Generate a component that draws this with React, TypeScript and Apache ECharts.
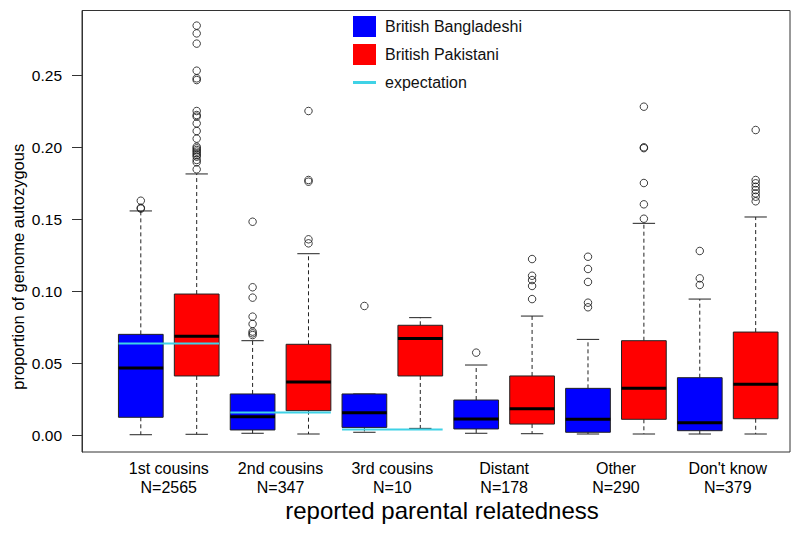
import React, { useEffect, useRef } from "react";
import * as echarts from "echarts";

const categories = ["1st cousins", "2nd cousins", "3rd cousins", "Distant", "Other", "Don't know"];
const sampleSizes = [2565, 347, 10, 178, 290, 379];

// [lower whisker, Q1, median, Q3, upper whisker]
const bangladeshiStats = [
  [0.0002, 0.0123, 0.0465, 0.0699, 0.1556],
  [0.0012, 0.0035, 0.0127, 0.0285, 0.0655],
  [0.0019, 0.0053, 0.0155, 0.0285, 0.0285],
  [0.0012, 0.0042, 0.0111, 0.0243, 0.0486],
  [0.0007, 0.0019, 0.0109, 0.0324, 0.0664],
  [0.0007, 0.003, 0.0085, 0.0398, 0.0944],
];
const pakistaniStats = [
  [0.0005, 0.041, 0.0685, 0.0979, 0.1813],
  [0.0007, 0.0169, 0.0368, 0.063, 0.1259],
  [0.0046, 0.041, 0.0671, 0.0762, 0.0815],
  [0.0009, 0.0076, 0.0183, 0.041, 0.0826],
  [0.0007, 0.0109, 0.0324, 0.0655, 0.147],
  [0.0007, 0.0113, 0.0352, 0.0715, 0.1514],
];

const bangladeshiOutliers = [
  [0.1627, 0.1578, 0.1572],
  [0.1481, 0.1026, 0.0954, 0.0822, 0.0771, 0.0718, 0.0706, 0.0694],
  [0.0896],
  [0.0572],
  [0.1238, 0.1153, 0.1063, 0.0919, 0.0887],
  [0.1278, 0.1088, 0.1042],
];
const pakistaniOutliers = [
  [0.2843, 0.2789, 0.2718, 0.253, 0.2477, 0.2465, 0.225, 0.2222, 0.2211, 0.2164, 0.2111, 0.2058, 0.2002, 0.1991, 0.1979, 0.1968, 0.1956, 0.1944, 0.1933, 0.191, 0.1894, 0.1845],
  [0.225, 0.1771, 0.1759, 0.1359, 0.1331],
  [],
  [0.1222, 0.1106, 0.1076, 0.1035, 0.0944],
  [0.228, 0.1998, 0.1992, 0.175, 0.1602, 0.1502],
  [0.2118, 0.1771, 0.1748, 0.1724, 0.1701, 0.1678, 0.1655, 0.1623],
];

// expected autozygosity for the first three groups
const expectation = [0.0635, 0.0156, 0.0039];

const yTicks = [0, 0.05, 0.1, 0.15, 0.2, 0.25];

const BLUE = "#0000FF";
const RED = "#FF0000";
const CYAN = "#3FD2E6";
const FONT = "'Liberation Sans', Arial, Helvetica, sans-serif";

const posBlue = (i: number) => 2 * i + 1;
const posRed = (i: number) => 2 * i + 2;

function boxRender(fill: string) {
  return (params: any, api: any) => {
    const x = api.value(0);
    const lo = api.value(1);
    const q1 = api.value(2);
    const med = api.value(3);
    const q3 = api.value(4);
    const hi = api.value(5);
    const c = (xx: number, yy: number) => api.coord([xx, yy]);
    const tl = c(x - 0.4, q3);
    const br = c(x + 0.4, q1);
    const wStyle = { stroke: "#222", lineWidth: 1, lineDash: [4, 3] };
    const sStyle = { stroke: "#222", lineWidth: 1 };
    const line = (a: number[], b: number[], style: any) => ({
      type: "line",
      shape: { x1: a[0], y1: a[1], x2: b[0], y2: b[1] },
      style,
    });
    return {
      type: "group",
      children: [
        line(c(x, q3), c(x, hi), wStyle),
        line(c(x, q1), c(x, lo), wStyle),
        line(c(x - 0.2, hi), c(x + 0.2, hi), sStyle),
        line(c(x - 0.2, lo), c(x + 0.2, lo), sStyle),
        {
          type: "rect",
          shape: { x: tl[0], y: tl[1], width: br[0] - tl[0], height: br[1] - tl[1] },
          style: { fill, stroke: "#222", lineWidth: 1 },
        },
        line(c(x - 0.4, med), c(x + 0.4, med), { stroke: "#000", lineWidth: 3 }),
      ],
    };
  };
}

export default function App() {
  const ref = useRef<HTMLDivElement>(null);
  useEffect(() => {
    document.body.style.margin = "0";
    const chart = echarts.init(ref.current as HTMLDivElement, null, { renderer: "svg" });

    const blueData = bangladeshiStats.map((s, i) => [posBlue(i), ...s]);
    const redData = pakistaniStats.map((s, i) => [posRed(i), ...s]);
    const blueOut: number[][] = [];
    bangladeshiOutliers.forEach((arr, i) => arr.forEach((v) => blueOut.push([posBlue(i), v])));
    const redOut: number[][] = [];
    pakistaniOutliers.forEach((arr, i) => arr.forEach((v) => redOut.push([posRed(i), v])));
    const expData = expectation.map((v, i) => [i, v]);
    const labelPositions = categories.map((_, i) => (posBlue(i) + posRed(i)) / 2);

    const option: any = {
      animation: false,
      textStyle: { fontFamily: FONT, color: "#000" },
      grid: {
        left: 82,
        right: 10,
        top: 10.5,
        bottom: 84,
        containLabel: false,
        outerBoundsMode: "none",
        show: true,
        borderColor: "#333",
        borderWidth: 1,
        backgroundColor: "transparent",
      },
      legend: [
        {
          data: [
            { name: "British Bangladeshi", icon: "rect", itemStyle: { color: BLUE } },
            { name: "British Pakistani", icon: "rect", itemStyle: { color: RED } },
          ],
          orient: "vertical",
          left: 353,
          top: 16,
          itemWidth: 23,
          itemHeight: 21,
          itemGap: 7,
          padding: 0,
          selectedMode: false,
          textStyle: { fontFamily: FONT, fontSize: 16, color: "#111", padding: [0, 0, 0, 4] },
        },
        {
          data: [{ name: "expectation", icon: "rect", itemStyle: { color: CYAN } }],
          orient: "vertical",
          left: 353,
          top: 74.5,
          itemWidth: 23,
          itemHeight: 3,
          padding: 0,
          selectedMode: false,
          textStyle: { fontFamily: FONT, fontSize: 16, color: "#111", padding: [0, 0, 0, 4] },
        },
      ],
      xAxis: {
        type: "value",
        min: -0.052,
        max: 12.614,
        name: "reported parental relatedness",
        nameLocation: "middle",
        nameGap: 46,
        nameMoveOverlap: false,
        nameTextStyle: { fontFamily: FONT, fontSize: 24, color: "#000", padding: [0, 0, 0, 12] },
        axisLine: { show: false, onZero: false },
        axisTick: { show: false },
        splitLine: { show: false },
        axisLabel: {
          customValues: labelPositions,
          margin: 7,
          fontSize: 16,
          lineHeight: 19,
          color: "#000",
          fontFamily: FONT,
          formatter: (v: number) => {
            const i = Math.round((v - 1.5) / 2);
            return categories[i] + "\nN=" + sampleSizes[i];
          },
        },
      },
      yAxis: {
        type: "value",
        min: -0.0118,
        max: 0.2948,
        name: "proportion of genome autozygous",
        nameLocation: "middle",
        nameGap: 56,
        nameMoveOverlap: false,
        nameTextStyle: { fontFamily: FONT, fontSize: 16.5, color: "#000", padding: [0, 71, 0, 0] },
        axisLine: { show: true, onZero: false, lineStyle: { color: "#333" } },
        axisTick: { show: true, customValues: yTicks, length: 10, lineStyle: { color: "#333" } },
        splitLine: { show: false },
        axisLabel: {
          customValues: yTicks,
          margin: 20,
          fontSize: 15.5,
          color: "#000",
          fontFamily: FONT,
          formatter: (v: number) => v.toFixed(2),
        },
      },
      series: [
        {
          name: "British Bangladeshi",
          type: "custom",
          itemStyle: { color: BLUE },
          encode: { x: 0, y: [1, 2, 3, 4, 5] },
          renderItem: boxRender(BLUE),
          data: blueData,
          z: 2,
        },
        {
          name: "British Pakistani",
          type: "custom",
          itemStyle: { color: RED },
          encode: { x: 0, y: [1, 2, 3, 4, 5] },
          renderItem: boxRender(RED),
          data: redData,
          z: 2,
        },
        {
          name: "Bangladeshi outliers",
          type: "scatter",
          symbol: "circle",
          symbolSize: 7.5,
          itemStyle: { color: "transparent", borderColor: "#111", borderWidth: 1 },
          data: blueOut,
          z: 3,
        },
        {
          name: "Pakistani outliers",
          type: "scatter",
          symbol: "circle",
          symbolSize: 7.5,
          itemStyle: { color: "transparent", borderColor: "#111", borderWidth: 1 },
          data: redOut,
          z: 3,
        },
        {
          name: "expectation",
          type: "custom",
          itemStyle: { color: CYAN },
          encode: { x: 0, y: 1 },
          renderItem: (params: any, api: any) => {
            const i = api.value(0);
            const v = api.value(1);
            const a = api.coord([posBlue(i) - 0.4, v]);
            const b = api.coord([posRed(i) + 0.4, v]);
            return {
              type: "line",
              shape: { x1: a[0], y1: a[1], x2: b[0], y2: b[1] },
              style: { stroke: CYAN, lineWidth: 2 },
            };
          },
          data: expData,
          z: 4,
        },
      ],
    };
    chart.setOption(option);
    return () => chart.dispose();
  }, []);
  return <div ref={ref} style={{ width: 800, height: 536 }} />;
}
